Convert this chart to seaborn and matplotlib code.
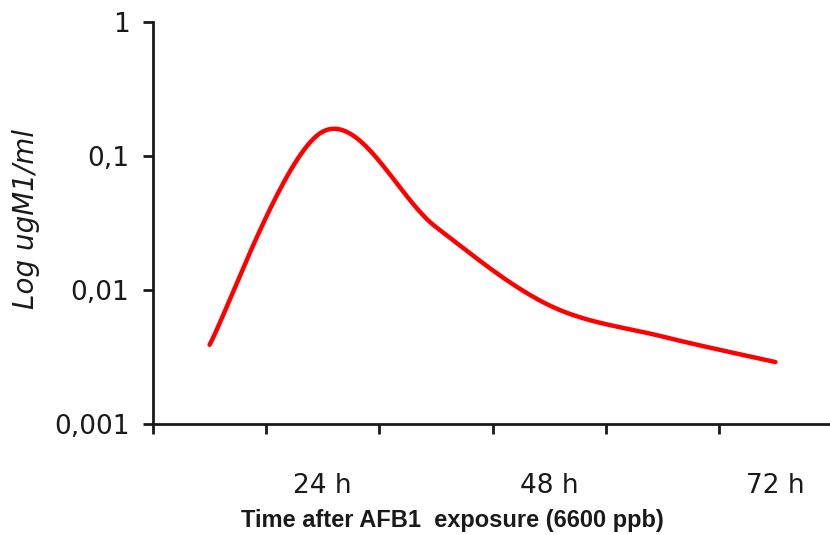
import numpy as np
import pandas as pd
import seaborn as sns
import matplotlib.pyplot as plt
from matplotlib.ticker import NullLocator

# time slots on the category axis, label every second slot
slots = [0, 1, 2, 3, 4, 5]
hour_ticks = [1, 3, 5]
hour_labels = ["24 h", "48 h", "72 h"]
# M1 concentration (ug/ml)
m1_conc = [0.0039, 0.152, 0.0295, 0.0077, 0.0045, 0.0029]

y_ticks = [0.001, 0.01, 0.1, 1]
y_tick_labels = ["0,001", "0,01", "0,1", "1"]


def smooth_log(xs, ys, n=40):
    # spreadsheet-style smoothed line: cubic bezier through each pair of points,
    # worked out in log space so it looks right on the log axis
    pts = np.column_stack([np.asarray(xs, float), np.log10(ys)])
    ext = np.vstack([pts[0], pts, pts[-1]])
    t = np.linspace(0, 1, n)[:, None]
    out = []
    for i in range(len(pts) - 1):
        p0, p3 = ext[i + 1], ext[i + 2]
        c1 = p0 + (ext[i + 2] - ext[i]) / 6
        c2 = p3 - (ext[i + 3] - ext[i + 1]) / 6
        seg = ((1 - t) ** 3) * p0 + 3 * ((1 - t) ** 2) * t * c1 \
            + 3 * (1 - t) * t ** 2 * c2 + t ** 3 * p3
        out.append(seg if i == 0 else seg[1:])
    out = np.vstack(out)
    return out[:, 0], 10 ** out[:, 1]


sns.set_style("ticks")
plt.rcParams['font.family'] = ['DejaVu Sans']

sx, sy = smooth_log(slots, m1_conc)
df = pd.DataFrame({"slot": sx, "conc": sy})

fig = plt.figure(figsize=(8.3, 5.35), dpi=100)
ax = fig.add_axes([153 / 830, 111 / 535, 679 / 830, 402 / 535])

sns.lineplot(data=df, x="slot", y="conc", sort=False, color="#ff0000",
             lw=3.2, ax=ax)

ax.set_yscale("log")
ax.set_ylim(0.001, 1)
ax.set_xlim(-0.5, 5.5)
ax.set_yticks(y_ticks)
ax.set_yticklabels(y_tick_labels)
ax.yaxis.set_minor_locator(NullLocator())

# category boundaries get the tick marks, labels sit between them
ax.set_xticks(np.arange(-0.5, 6, 1))
ax.set_xticklabels([])
ax.set_xticks(hour_ticks, minor=True)
ax.set_xticklabels(hour_labels, minor=True)

ax.set_xlabel("")
ax.set_ylabel("")

for side in ["top", "right"]:
    ax.spines[side].set_visible(False)
for side in ["left", "bottom"]:
    ax.spines[side].set_linewidth(2)
    ax.spines[side].set_color("#1a1a1a")
ax.spines["bottom"].set_clip_on(False)

ax.tick_params(axis="both", which="major", direction="out", length=7,
               width=2, color="#1a1a1a", labelsize=19, labelcolor="#1a1a1a",
               bottom=True, left=True)
ax.tick_params(axis="y", which="major", pad=10)
ax.tick_params(axis="x", which="minor", bottom=True, length=0, pad=35,
               labelsize=19, labelcolor="#1a1a1a")

fig.text(26 / 830, 1 - 219 / 535, "Log ugM1/ml", rotation=90, ha="center",
         va="center", fontsize=20, style="italic", color="#1a1a1a")
fig.text(452 / 830, 1 - 521 / 535, "Time after AFB1  exposure (6600 ppb)",
         ha="center", va="center", fontsize=17, fontweight="bold",
         family="Liberation Sans", color="#1a1a1a")

fig.savefig("out.png", dpi=100)
